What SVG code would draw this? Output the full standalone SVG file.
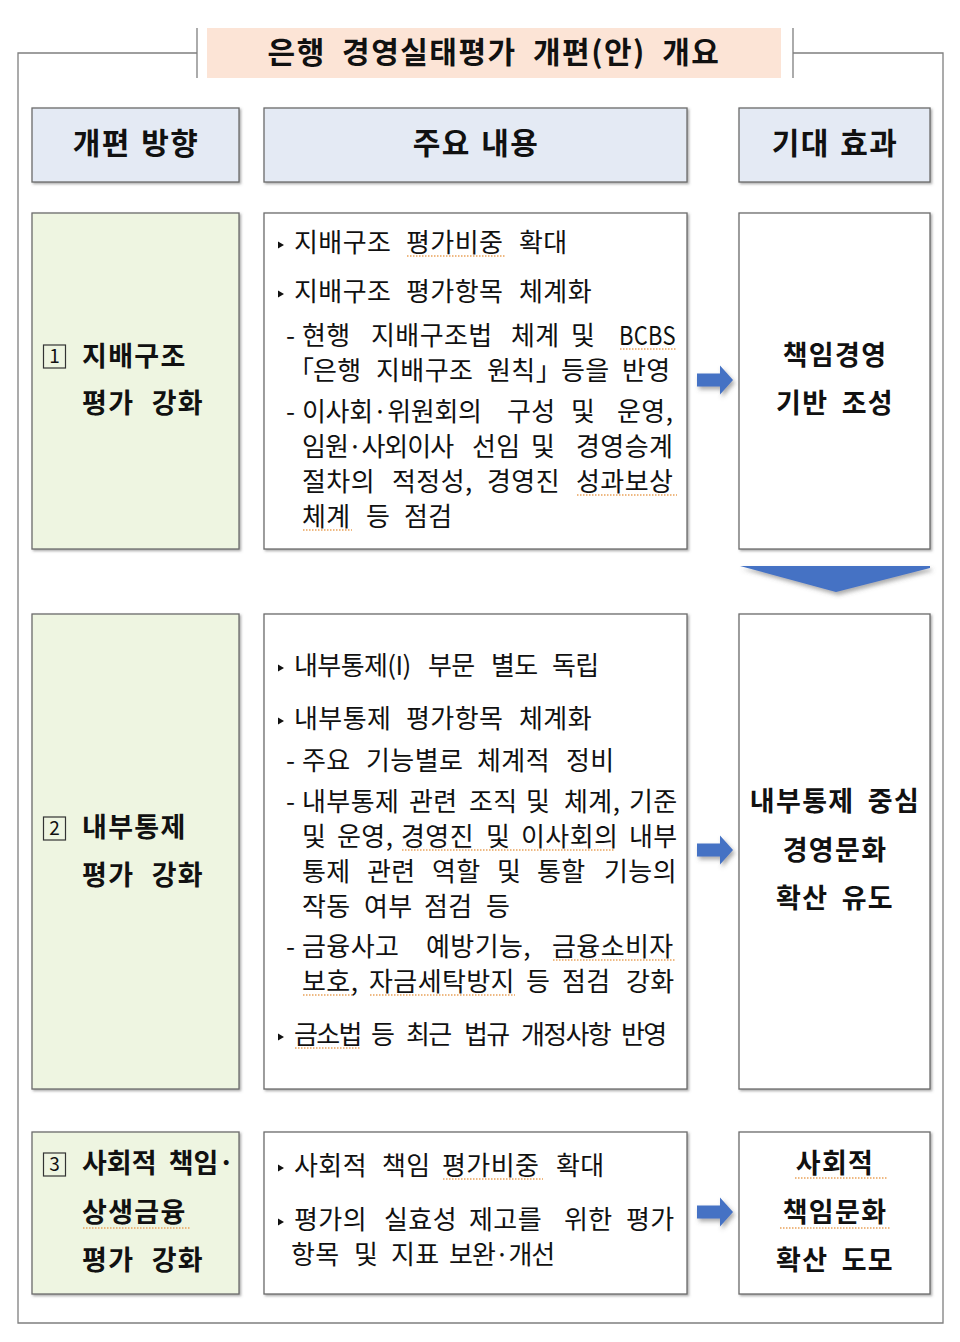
<svg xmlns="http://www.w3.org/2000/svg" width="960" height="1342" viewBox="0 0 960 1342">
<defs>
<style>
.frame{fill:none;stroke:#7f7f7f;stroke-width:1.3}
.box{stroke:#6b6b6b;stroke-width:1.3}
.hdr{fill:#E4EAF4}
.grn{fill:#EEF5E1}
.wht{fill:#ffffff}
.t{font-family:"Noto Sans CJK KR","Noto Sans",sans-serif;font-size:26px;letter-spacing:0.4px;fill:#111}
.b{font-family:"Noto Sans CJK KR","Noto Sans",sans-serif;font-weight:bold;font-size:27px;letter-spacing:1.3px;fill:#111;word-spacing:6px}
.bl{word-spacing:10px}
.h{font-family:"Noto Sans CJK KR","Noto Sans",sans-serif;font-weight:bold;font-size:30px;letter-spacing:1.5px;fill:#111;word-spacing:2px}
.ttl{font-family:"Noto Sans CJK KR","Noto Sans",sans-serif;font-weight:bold;font-size:30px;letter-spacing:1.5px;fill:#111;word-spacing:8px}
.num{font-family:"Noto Sans CJK KR","Noto Sans",sans-serif;font-size:19px;fill:#111}
.nb{fill:none;stroke:#333;stroke-width:1.2}
.sq{stroke:#E9A25A;stroke-width:1.4;stroke-dasharray:1.5 1.5;fill:none}
.arr{fill:#4472C4}
</style>
<filter id="sh" x="-10%" y="-10%" width="130%" height="130%">
<feDropShadow dx="1.5" dy="1.5" stdDeviation="0.8" flood-color="#666" flood-opacity="0.55"/>
</filter>
<filter id="ash" x="-30%" y="-30%" width="170%" height="190%">
<feDropShadow dx="2" dy="3" stdDeviation="2" flood-color="#555" flood-opacity="0.5"/>
</filter>
<path id="tri" d="M0,-3.5 L6,0 L0,3.5 Z" fill="#111"/>
<path id="rarrow" d="M0,-6.5 H23 V-14.5 L36,0 L23,14.5 V6.5 H0 Z"/>
</defs>

<!-- outer frame -->
<g id="frame">
<path class="frame" d="M197,53 H18 V1323 H943 V53 H793"/>
<line class="frame" x1="197" y1="28" x2="197" y2="78"/>
<line class="frame" x1="793" y1="28" x2="793" y2="78"/>
</g>

<g id="title">
<rect x="207" y="28" width="574" height="50" fill="#FCE4D6"/>
<text class="ttl" x="494" y="63" text-anchor="middle">은행 경영실태평가 개편(안) 개요</text>
</g>

<!-- headers -->
<g id="hdr-direction">
<rect class="box hdr" x="32" y="108" width="207" height="74" filter="url(#sh)"/>
<text class="h" x="136" y="154" text-anchor="middle">개편 방향</text>
</g>
<g id="hdr-content">
<rect class="box hdr" x="264" y="108" width="423" height="74" filter="url(#sh)"/>
<text class="h" x="476" y="154" text-anchor="middle">주요 내용</text>
</g>
<g id="hdr-effect">
<rect class="box hdr" x="739" y="108" width="191" height="74" filter="url(#sh)"/>
<text class="h" x="835" y="154" text-anchor="middle">기대 효과</text>
</g>

<!-- Row 1 -->
<g id="dir-1">
<rect class="box grn" x="32" y="213" width="207" height="336" filter="url(#sh)"/>
<rect class="nb" x="43.5" y="345" width="22" height="23"/>
<text class="num" x="54.5" y="363" text-anchor="middle">1</text>
<text class="b bl" x="82" y="366">지배구조</text>
<text class="b bl" x="82" y="413">평가 강화</text>
</g>
<g id="content-1">
<rect class="box wht" x="264" y="213" width="423" height="336" filter="url(#sh)"/>
<use href="#tri" x="278" y="245"/>
<text class="t" y="252"><tspan x="294">지배구조</tspan><tspan x="406">평가비중</tspan><tspan x="519">확대</tspan></text>
<use href="#tri" x="278" y="294"/>
<text class="t" y="301"><tspan x="294">지배구조</tspan><tspan x="406">평가항목</tspan><tspan x="519">체계화</tspan></text>
<text class="t" y="345"><tspan x="286">-</tspan><tspan x="302">현행</tspan><tspan x="371">지배구조법</tspan><tspan x="511">체계</tspan><tspan x="571">및</tspan></text>
<text class="t" x="619" y="345" textLength="57" lengthAdjust="spacingAndGlyphs">BCBS</text>
<text class="t" y="380"><tspan x="288">「</tspan><tspan x="313">은행</tspan><tspan x="376">지배구조</tspan><tspan x="487">원칙」</tspan><tspan x="561">등을</tspan><tspan x="622">반영</tspan></text>
<text class="t" y="421"><tspan x="286">-</tspan><tspan x="302" style="letter-spacing:-0.3px">이사회·위원회의</tspan><tspan x="507">구성</tspan><tspan x="571">및</tspan><tspan x="617">운영,</tspan></text>
<text class="t" y="456"><tspan x="302" style="letter-spacing:-1px">임원·사외이사</tspan><tspan x="472">선임</tspan><tspan x="531">및</tspan><tspan x="576">경영승계</tspan></text>
<text class="t" y="491"><tspan x="302">절차의</tspan><tspan x="392">적정성,</tspan><tspan x="487">경영진</tspan><tspan x="576">성과보상</tspan></text>
<text class="t" y="526"><tspan x="302">체계</tspan><tspan x="366">등</tspan><tspan x="404">점검</tspan></text>
<line class="sq" x1="407" y1="256" x2="505" y2="256"/>
<line class="sq" x1="620" y1="349" x2="676" y2="349"/>
<line class="sq" x1="577" y1="495" x2="677" y2="495"/>
<line class="sq" x1="303" y1="530" x2="352" y2="530"/>
</g>
<g id="effect-1">
<rect class="box wht" x="739" y="213" width="191" height="336" filter="url(#sh)"/>
<text class="b" x="835" y="365" text-anchor="middle">책임경영</text>
<text class="b" x="835" y="413" text-anchor="middle">기반 조성</text>
</g>

<!-- Row 2 -->
<g id="dir-2">
<rect class="box grn" x="32" y="614" width="207" height="475" filter="url(#sh)"/>
<rect class="nb" x="43.5" y="817" width="22" height="23"/>
<text class="num" x="54.5" y="835" text-anchor="middle">2</text>
<text class="b bl" x="82" y="837">내부통제</text>
<text class="b bl" x="82" y="885">평가 강화</text>
</g>
<g id="content-2">
<rect class="box wht" x="264" y="614" width="423" height="475" filter="url(#sh)"/>
<use href="#tri" x="278" y="668"/>
<text class="t" y="675" style="letter-spacing:-0.6px"><tspan x="294">내부통제(I)</tspan><tspan x="428">부문</tspan><tspan x="491">별도</tspan><tspan x="552">독립</tspan></text>
<use href="#tri" x="278" y="721"/>
<text class="t" y="728"><tspan x="294">내부통제</tspan><tspan x="406">평가항목</tspan><tspan x="519">체계화</tspan></text>
<text class="t" y="770"><tspan x="286">-</tspan><tspan x="302">주요</tspan><tspan x="366">기능별로</tspan><tspan x="477">체계적</tspan><tspan x="566">정비</tspan></text>
<text class="t" y="811"><tspan x="286">-</tspan><tspan x="302">내부통제</tspan><tspan x="409">관련</tspan><tspan x="469">조직</tspan><tspan x="526">및</tspan><tspan x="564">체계,</tspan><tspan x="629">기준</tspan></text>
<text class="t" y="846"><tspan x="302">및</tspan><tspan x="337">운영,</tspan><tspan x="401">경영진</tspan><tspan x="486">및</tspan><tspan x="521">이사회의</tspan><tspan x="629">내부</tspan></text>
<text class="t" y="881"><tspan x="302">통제</tspan><tspan x="367">관련</tspan><tspan x="432">역할</tspan><tspan x="497">및</tspan><tspan x="537">통할</tspan><tspan x="604">기능의</tspan></text>
<text class="t" y="916"><tspan x="302">작동</tspan><tspan x="364">여부</tspan><tspan x="424">점검</tspan><tspan x="486">등</tspan></text>
<text class="t" y="956"><tspan x="286">-</tspan><tspan x="302">금융사고</tspan><tspan x="426">예방기능,</tspan><tspan x="552">금융소비자</tspan></text>
<text class="t" y="991"><tspan x="302">보호,</tspan><tspan x="369">자금세탁방지</tspan><tspan x="526">등</tspan><tspan x="562">점검</tspan><tspan x="626">강화</tspan></text>
<use href="#tri" x="278" y="1037"/>
<text class="t" y="1044" style="letter-spacing:-1.7px"><tspan x="294">금소법</tspan><tspan x="371">등</tspan><tspan x="406">최근</tspan><tspan x="464">법규</tspan><tspan x="521">개정사항</tspan><tspan x="621">반영</tspan></text>
<line class="sq" x1="402" y1="850" x2="615" y2="850"/>
<line class="sq" x1="553" y1="960" x2="676" y2="960"/>
<line class="sq" x1="303" y1="995" x2="352" y2="995"/>
<line class="sq" x1="370" y1="995" x2="515" y2="995"/>
<line class="sq" x1="295" y1="1048" x2="360" y2="1048"/>
</g>
<g id="effect-2">
<rect class="box wht" x="739" y="614" width="191" height="475" filter="url(#sh)"/>
<text class="b" x="835" y="811" text-anchor="middle">내부통제 중심</text>
<text class="b" x="835" y="860" text-anchor="middle">경영문화</text>
<text class="b" x="835" y="908" text-anchor="middle">확산 유도</text>
</g>

<!-- Row 3 -->
<g id="dir-3">
<rect class="box grn" x="32" y="1132" width="207" height="162" filter="url(#sh)"/>
<rect class="nb" x="43.5" y="1153" width="22" height="23"/>
<text class="num" x="54.5" y="1171" text-anchor="middle">3</text>
<text class="b" x="82" y="1173" style="letter-spacing:0px;word-spacing:6px">사회적 책임·</text>
<text class="b bl" x="82" y="1222">상생금융</text>
<text class="b bl" x="82" y="1270">평가 강화</text>
<line class="sq" x1="83" y1="1228" x2="190" y2="1228"/>
</g>
<g id="content-3">
<rect class="box wht" x="264" y="1132" width="423" height="162" filter="url(#sh)"/>
<use href="#tri" x="278" y="1168"/>
<text class="t" y="1175"><tspan x="294">사회적</tspan><tspan x="382">책임</tspan><tspan x="442">평가비중</tspan><tspan x="556">확대</tspan></text>
<use href="#tri" x="278" y="1222"/>
<text class="t" y="1229"><tspan x="294">평가의</tspan><tspan x="384">실효성</tspan><tspan x="469">제고를</tspan><tspan x="564">위한</tspan><tspan x="626">평가</tspan></text>
<text class="t" y="1264"><tspan x="291">항목</tspan><tspan x="354">및</tspan><tspan x="391">지표</tspan><tspan x="449" style="letter-spacing:-1px">보완·개선</tspan></text>
<line class="sq" x1="443" y1="1179" x2="543" y2="1179"/>
</g>
<g id="effect-3">
<rect class="box wht" x="739" y="1132" width="191" height="162" filter="url(#sh)"/>
<text class="b" x="835" y="1173" text-anchor="middle">사회적</text>
<text class="b" x="835" y="1222" text-anchor="middle">책임문화</text>
<text class="b" x="835" y="1270" text-anchor="middle">확산 도모</text>
<line class="sq" x1="795" y1="1178" x2="888" y2="1178"/>
<line class="sq" x1="780" y1="1228" x2="890" y2="1228"/>
</g>

<!-- connectors -->
<g id="connectors">
<use href="#rarrow" class="arr" x="697" y="380" filter="url(#ash)"/>
<use href="#rarrow" class="arr" x="697" y="850" filter="url(#ash)"/>
<use href="#rarrow" class="arr" x="697" y="1212" filter="url(#ash)"/>
<polygon class="arr" points="740,566 930,566 930,568 836,592" filter="url(#ash)"/>
</g>
</svg>
